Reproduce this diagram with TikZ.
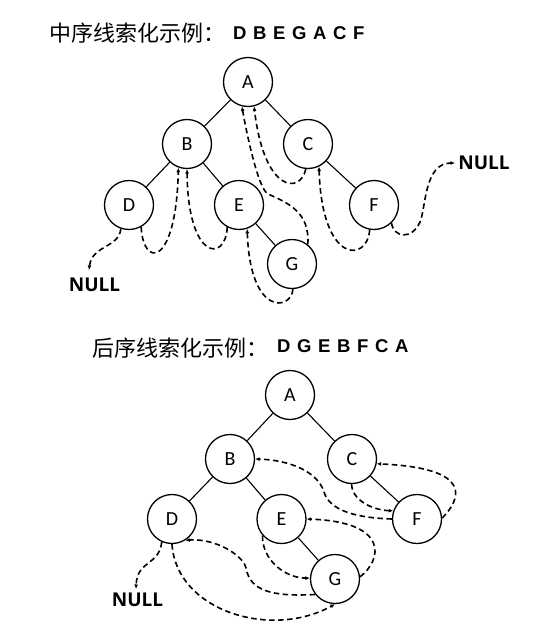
\documentclass[tikz,border=0pt]{standalone}
\usepackage{fontspec}
\setmainfont{Carlito}
\newfontfamily\cjk{Noto Sans CJK SC}
\newfontfamily\latbold[LetterSpace=8]{Liberation Sans}
\newfontfamily\nulltxtfont{Open Sans}
\usetikzlibrary{arrows.meta}
\tikzset{
  tn/.style={circle,draw,line width=1.3pt,minimum size=49pt,inner sep=0pt,font=\fontsize{20}{24}\selectfont},
  edge/.style={line width=1.1pt},
  thread/.style={line width=1.6pt,dash pattern=on 5.5pt off 3.5pt,-{Latex[length=4.5pt,width=4pt]}},
  nulltxt/.style={inner sep=0pt,font={\nulltxtfont\fontsize{19}{22}\selectfont\bfseries}},
  ttl/.style={inner sep=0pt,anchor=base west,font={\cjk\fontsize{22}{26}\selectfont}},
  ttlat/.style={inner sep=0pt,anchor=base west,font={\latbold\fontsize{18.5}{22}\selectfont\bfseries}},
}
\begin{document}
\begin{tikzpicture}[x=1pt,y=-1pt]
\fill[white] (0,0) rectangle (550,632);
\useasboundingbox (0,0) rectangle (550,632);

% titles
\node[ttl] (t1) at (49,41.5) {中序线索化示例：};
\node[ttlat] (t1s) at (233,39) {D B E G A C F};
\node[ttl] (t2) at (92,356) {后序线索化示例：};
\node[ttlat] (t2s) at (277,352) {D G E B F C A};

% ---------- top tree (inorder) ----------
\node[tn] (A1) at (248,82) {A};
\node[tn] (B1) at (187,144) {B};
\node[tn] (C1) at (308,144) {C};
\node[tn] (D1) at (129,205) {D};
\node[tn] (E1) at (239,205) {E};
\node[tn] (F1) at (374,205) {F};
\node[tn] (G1) at (292,264) {G};
\node[nulltxt] (NL1) at (94.5,285) {NULL};
\node[nulltxt] (NR1) at (484,163) {NULL};
\coordinate (nl1) at (89,270);
\coordinate (nr1) at (455,163);

\draw[edge] (A1) -- (B1);
\draw[edge] (A1) -- (C1);
\draw[edge] (B1) -- (D1);
\draw[edge] (B1) -- (E1);
\draw[edge] (C1) -- (F1);
\draw[edge] (E1) -- (G1);

\draw[thread] (D1.-109) .. controls (119,248) and (92,245) .. (nl1);
\draw[thread] (D1.-61) .. controls (143,268) and (176,268) .. (B1.-110);
\draw[thread] (E1.-118) .. controls (226,262) and (188,262) .. (B1.-90);
\draw[thread] (G1.-88) .. controls (292,310) and (250,318) .. (E1.-71);
\draw[thread] (G1.51) .. controls (310,212) and (288,203) .. (268,194) .. controls (258,189) and (246,130) .. (A1.-104);
\draw[thread] (C1.-95) .. controls (300,195) and (264,192) .. (A1.-76);
\draw[thread] (F1.-100) .. controls (368,262) and (322,266) .. (C1.-64);
\draw[thread] (F1.-46) .. controls (394,238) and (412,240) .. (420,222) .. controls (426,208) and (424,163) .. (nr1);

% ---------- bottom tree (postorder) ----------
\node[tn] (A2) at (290,395) {A};
\node[tn] (B2) at (230,459) {B};
\node[tn] (C2) at (352,459) {C};
\node[tn] (D2) at (172,519) {D};
\node[tn] (E2) at (281.5,519) {E};
\node[tn] (F2) at (417,519) {F};
\node[tn] (G2) at (335,579) {G};
\node[nulltxt] (NL2) at (137.5,600) {NULL};
\coordinate (nl2) at (136,589);

\draw[edge] (A2) -- (B2);
\draw[edge] (A2) -- (C2);
\draw[edge] (B2) -- (D2);
\draw[edge] (B2) -- (E2);
\draw[edge] (C2) -- (F2);
\draw[edge] (E2) -- (G2);

\draw[thread] (D2.-114) .. controls (159,566) and (137,560) .. (nl2);
\draw[thread] (D2.-90) .. controls (176,610) and (270,640) .. (G2.-90);
\draw[thread] (G2.-142) .. controls (270,597) and (250,590) .. (246,568) .. controls (243,555) and (215,538) .. (D2.-58);
\draw[thread] (E2.-139) .. controls (262,560) and (285,578) .. (G2.178);
\draw[thread] (G2.5) .. controls (382,560) and (390,522) .. (E2.0);
\draw[thread] (F2.180) .. controls (360,518) and (330,512) .. (324,492) .. controls (318,472) and (290,460) .. (B2.0);
\draw[thread] (C2.-91) .. controls (352,500) and (372,510) .. (F2.161);
\draw[thread] (F2.2) .. controls (460,500) and (476,468) .. (C2.-11);
\end{tikzpicture}
\end{document}
